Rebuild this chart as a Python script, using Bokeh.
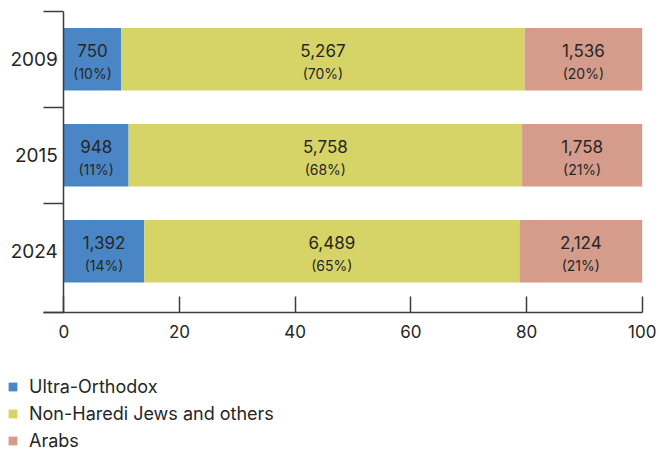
from bokeh.plotting import figure
from bokeh.models import ColumnDataSource, FixedTicker, Range1d, Legend, LegendItem
from bokeh.core.properties import value
from bokeh.embed import file_html
from bokeh.resources import INLINE

# ---- data ----
years = ["2009", "2015", "2024"]
ultra_orthodox = [750, 948, 1392]
non_haredi = [5267, 5758, 6489]
arabs = [1536, 1758, 2124]
series_names = ["Ultra-Orthodox", "Non-Haredi Jews and others", "Arabs"]
colors = ["#4a86c6", "#d6d466", "#d59c8c"]
x_ticks = [0, 20, 40, 60, 80, 100]

FONT = "Inter"
TXT = "#262626"
AX = "#3c3c3c"

W, H = 660, 450
# pixel layout of the plotting area inside the page
X0_PX, X100_PX = 63.3, 641.7
YTOP_PX, BAND_PX, XAXIS_PX = 10.7, 96.0, 311.7

n = len(years)
ypos = [n - i - 0.5 for i in range(n)]
sx = (X100_PX - X0_PX) / 100.0
x_start = -X0_PX / sx
x_end = 100 + (W - X100_PX) / sx
y_end = n + YTOP_PX / BAND_PX
y_start = n - (H - YTOP_PX) / BAND_PX
y_axis_at = n - (XAXIS_PX - YTOP_PX) / BAND_PX
x_axis_left = -(X0_PX - 43.3) / sx

cols = [ultra_orthodox, non_haredi, arabs]
totals = [sum(c[i] for c in cols) for i in range(n)]
keys = ["s0", "s1", "s2"]
data = {"y": ypos}
for k, c in zip(keys, cols):
    data[k] = [c[i] / totals[i] * 100 for i in range(n)]
src = ColumnDataSource(data)

p = figure(width=W, height=H, x_range=Range1d(x_start, x_end), y_range=Range1d(y_start, y_end),
           output_backend="svg", toolbar_location=None,
           min_border_left=0, min_border_right=0, min_border_top=0, min_border_bottom=0)
p.outline_line_color = None
p.grid.visible = False
p.background_fill_color = "white"

rs = p.hbar_stack(keys, y="y", height=0.65, color=colors, line_color=None, source=src)

# labels
lx, ly, lv, lp = [], [], [], []
for i in range(n):
    left = 0.0
    for k, c in zip(keys, cols):
        pct = data[k][i]
        lx.append(left + pct / 2)
        ly.append(ypos[i])
        lv.append(f"{c[i]:,}")
        lp.append(f"({round(pct)}%)")
        left += pct
lsrc = ColumnDataSource(dict(x=lx, y=ly, v=lv, pc=lp))
p.text(x="x", y="y", text="v", source=lsrc, text_align="center", text_baseline="middle",
       y_offset=-9, text_font=value(FONT), text_font_size="17px", text_color=TXT)
p.text(x="x", y="y", text="pc", source=lsrc, text_align="center", text_baseline="middle",
       y_offset=14, text_font=value(FONT), text_font_size="14px", text_color=TXT)

# y axis (drawn at x = 0)
ya = p.yaxis[0]
ya.fixed_location = 0
ya.bounds = (y_axis_at, n)
ya.ticker = FixedTicker(ticks=ypos, minor_ticks=[float(n - i) for i in range(n)] + [y_axis_at])
ya.major_label_overrides = {ypos[i]: years[i] for i in range(n)}
ya.major_tick_out = 0
ya.major_tick_in = 0
ya.minor_tick_out = 20
ya.minor_tick_in = 0
ya.minor_tick_line_color = AX
ya.minor_tick_line_width = 1.5
ya.axis_line_color = AX
ya.axis_line_width = 1.5
ya.major_label_standoff = -14
ya.major_label_text_font = FONT
ya.major_label_text_font_size = "19px"
ya.major_label_text_color = TXT

# x axis (drawn at the bottom of the bars)
xa = p.xaxis[0]
xa.fixed_location = y_axis_at
xa.bounds = (x_axis_left, 100)
xa.ticker = FixedTicker(ticks=x_ticks, minor_ticks=[])
xa.major_tick_in = 16
xa.major_tick_out = 0
xa.major_tick_line_color = AX
xa.major_tick_line_width = 1.5
xa.axis_line_color = AX
xa.axis_line_width = 1.5
xa.major_label_standoff = 13
xa.major_label_text_font = FONT
xa.major_label_text_font_size = "17px"
xa.major_label_text_color = TXT

legend = Legend(items=[LegendItem(label=series_names[i], renderers=[rs[i]]) for i in range(n)],
                location=(7, -1))
legend.glyph_width = 11
legend.glyph_height = 11
legend.label_standoff = 11
legend.label_height = 20
legend.spacing = 6
legend.padding = 0
legend.margin = 0
legend.border_line_color = None
legend.background_fill_alpha = 0
legend.label_text_font = FONT
legend.label_text_font_size = "18px"
legend.label_text_color = TXT
p.add_layout(legend, "center")

open("out.html", "w").write(file_html(p, INLINE))
